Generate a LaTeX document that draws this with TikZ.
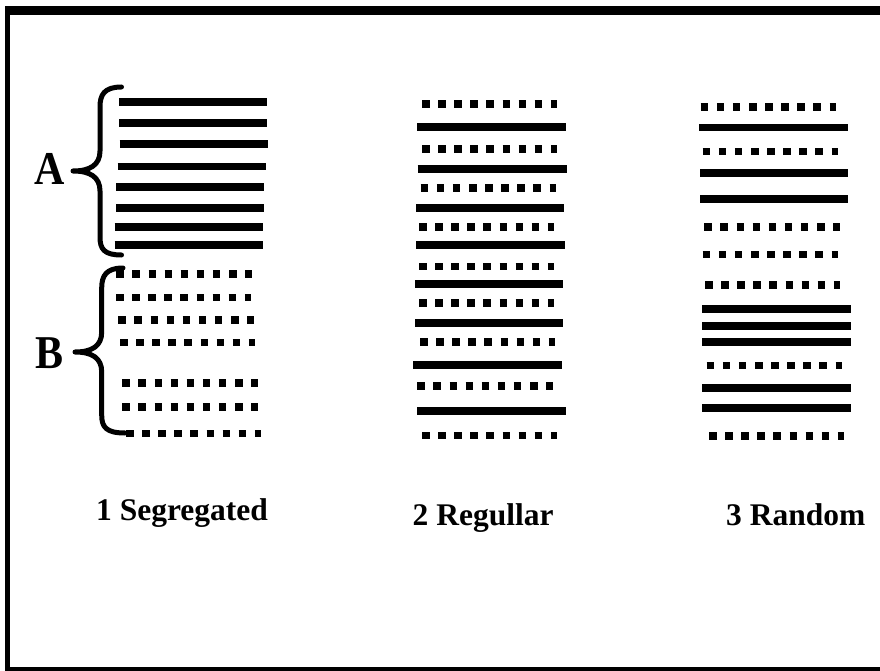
\documentclass[tikz,border=0pt]{standalone}
\usepackage{fontspec}
\setmainfont{Liberation Serif}
\tikzset{
  solidrow/.style={line width=7.8pt, line cap=butt},
  dotrow/.style={line width=7.6pt, line cap=butt, dash pattern=on 7.5pt off 8.6pt},
  bracepath/.style={line width=5pt, line cap=round, line join=round},
  caption/.style={font=\bfseries\fontsize{31.5}{32}\selectfont, anchor=base west, inner sep=0pt},
  letter/.style={font=\bfseries\fontsize{42}{42}\selectfont, anchor=base west, inner sep=0pt}
}
\begin{document}
\begin{tikzpicture}[x=1pt,y=-1pt]
\useasboundingbox (0,0) rectangle (880,671);
% frame
\fill (5,6) rectangle (880,15);
\fill (5,6) rectangle (10,671);
\fill (5,667) rectangle (880,671);

% column 1 : segregated
\foreach \y/\a/\b in {102/119/267, 123/119/267, 144/119.7/268, 166.5/117.7/266, 187/116/264, 208/116/264, 227/114.7/262.7, 245/114.7/262.7}
  \draw[solidrow] (\a,\y) -- (\b,\y);
\foreach \y/\a in {274/116.3, 297.3/116, 320/118.3, 342.3/120, 382.7/122.3, 406.7/122.3, 433.3/126}
  \draw[dotrow] (\a,\y) -- ++(135.3,0);

% braces
\draw[bracepath] (121.5,87) .. controls (104,87) and (100,95) .. (100,107) -- (100,151)
  .. controls (100,165) and (90,171) .. (73,171)
  .. controls (90,171) and (100,177) .. (100,191) -- (100,237)
  .. controls (100,249) and (104,255) .. (121.5,255);
\draw[bracepath] (123,268) .. controls (106,268) and (101.7,276) .. (101.7,288) -- (101.7,332)
  .. controls (101.7,346) and (92,352) .. (75,352)
  .. controls (92,352) and (101.7,358) .. (101.7,372) -- (101.7,415)
  .. controls (101.7,427) and (106,433) .. (125,433);

\node[letter] (lA) at (34,185) {\scalebox{1}[1.12]{A}};
\node[letter] (lB) at (35,368.3) {\scalebox{1}[1.12]{B}};

% column 2 : regular
\foreach \y/\a in {104.3/422, 149/422, 188/420.7, 227/419, 266.3/419, 303/419, 342/420, 386/417.3, 435.5/422}
  \draw[dotrow] (\a,\y) -- ++(135.3,0);
\foreach \y/\a/\b in {127.2/417/566, 169/417.7/566.7, 208/416/564.3, 245/416/565, 284/415/563.3, 323/415/563.3, 365/413/561.7, 410.7/417.3/566}
  \draw[solidrow] (\a,\y) -- (\b,\y);

% column 3 : random
\foreach \y/\a in {107/700.7, 151.5/702.7, 226.7/704.3, 254.5/702.7, 285/705, 365.5/706.7, 436/709}
  \draw[dotrow] (\a,\y) -- ++(135.3,0);
\foreach \y/\a/\b in {127.5/699.3/848.3, 173.3/700/848.3, 199/700/848.3, 309.3/702/850.7, 326/702/851.3, 341.7/702/851, 387.7/702.3/851.3, 408.3/702.3/851.3}
  \draw[solidrow] (\a,\y) -- (\b,\y);

% captions
\node[caption] (c1) at (96,520.7) {1 Segregated};
\node[caption] (c2) at (412.5,525) {2 Regullar};
\node[caption] (c3) at (726,525) {3 Random};
\end{tikzpicture}
\end{document}
